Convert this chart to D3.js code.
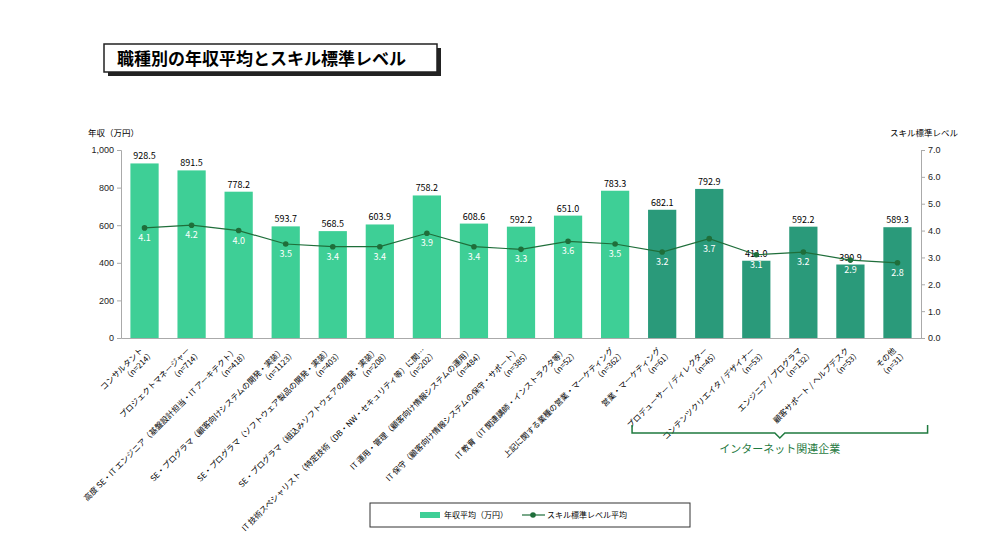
<!DOCTYPE html><html><head><meta charset="utf-8"><script src="https://cdn.jsdelivr.net/npm/d3@7"></script>
<style>body{margin:0;background:#fff;font-family:"Noto Sans CJK JP","Noto Sans",sans-serif}</style></head><body><svg id="c" width="1000" height="539"></svg><script>
const names=["コンサルタント","プロジェクトマネージャー","高度 SE・IT エンジニア（基盤設計担当・IT アーキテクト）","SE・プログラマ（顧客向けシステムの開発・実装）","SE・プログラマ（ソフトウェア製品の開発・実装）","SE・プログラマ（組込みソフトウェアの開発・実装）","IT 技術スペシャリスト（特定技術（DB・NW・セキュリティ等）に関…","IT 運用・管理（顧客向け情報システムの運用）","IT 保守（顧客向け情報システムの保守・サポート）","IT 教育（IT 関連講師・インストラクタ等）","上記に関する業種の営業・マーケティング","営業・マーケティング","プロデューサー / ディレクター","コンテンツクリエイタ / デザイナー","エンジニア / プログラマ","顧客サポート / ヘルプデスク","その他"];
const counts=[214,714,418,1123,403,208,202,484,385,52,362,61,45,53,132,53,31];
const salary=[928.5,891.5,778.2,593.7,568.5,603.9,758.2,608.6,592.2,651.0,783.3,682.1,792.9,411.0,592.2,390.9,589.3];
const skill=[4.1,4.2,4.0,3.5,3.4,3.4,3.9,3.4,3.3,3.6,3.5,3.2,3.7,3.1,3.2,2.9,2.8];
const internet=[0,0,0,0,0,0,0,0,0,0,0,1,1,1,1,1,1];
const leftTicks=[0,200,400,600,800,1000], rightTicks=[0,1,2,3,4,5,6,7];
const svg=d3.select("#c");
const L=121,R=921,T=150,B=338;
const x=d3.scaleBand().domain(d3.range(names.length)).range([L,R]).paddingInner(0.4).paddingOuter(0.2);
const y=d3.scaleLinear().domain([0,1000]).range([B,T]);
const y2=d3.scaleLinear().domain([0,7]).range([B,T]);
// title
svg.append("rect").attr("x",108).attr("y",48).attr("width",333).attr("height",28).attr("fill","#222");
svg.append("rect").attr("x",104).attr("y",44).attr("width",333).attr("height",28).attr("fill","#fff").attr("stroke","#222").attr("stroke-width",1.5);
svg.append("text").attr("x",117).attr("y",65).attr("font-size",17).attr("font-weight","bold").text("職種別の年収平均とスキル標準レベル");
const ga=svg.append("g").attr("transform",`translate(${L},0)`).call(d3.axisLeft(y).tickValues(leftTicks).tickFormat(d3.format(",")).tickSize(4));
const gb=svg.append("g").attr("transform",`translate(${R},0)`).call(d3.axisRight(y2).tickValues(rightTicks).tickSize(4));
svg.append("g").attr("transform",`translate(0,${B})`).call(d3.axisBottom(x).tickSize(0).tickFormat(""));
svg.selectAll(".domain,.tick line").attr("stroke","#aaa");
svg.selectAll(".tick text").attr("font-size",9).attr("fill","#222");
svg.append("text").attr("x",88).attr("y",136).attr("font-size",8.5).text("年収（万円）");
svg.append("text").attr("x",958).attr("y",136).attr("font-size",8.5).attr("text-anchor","end").text("スキル標準レベル");
const c1="#3ecf96",c2="#2a9a7a";
svg.selectAll(".bar").data(salary).join("rect").attr("x",(d,i)=>x(i)).attr("width",x.bandwidth()).attr("y",d=>y(d)).attr("height",d=>B-y(d)).attr("fill",(d,i)=>internet[i]?c2:c1);
svg.selectAll(".bl").data(salary).join("text").attr("x",(d,i)=>x(i)+x.bandwidth()/2).attr("y",d=>y(d)-4).attr("text-anchor","middle").attr("font-size",9).text(d=>d.toFixed(1));
const line=d3.line().x((d,i)=>x(i)+x.bandwidth()/2).y(d=>y2(d));
svg.append("path").datum(skill).attr("d",line).attr("fill","none").attr("stroke","#1f6e3a").attr("stroke-width",1.2);
svg.selectAll(".pt").data(skill).join("circle").attr("cx",(d,i)=>x(i)+x.bandwidth()/2).attr("cy",d=>y2(d)).attr("r",2.8).attr("fill","#1f6e3a");
svg.selectAll(".sl").data(skill).join("text").attr("x",(d,i)=>x(i)+x.bandwidth()/2).attr("y",d=>y2(d)+13).attr("text-anchor","middle").attr("font-size",9).attr("fill","#fff").text(d=>d.toFixed(1));
// category labels
names.forEach((n,i)=>{const cx=x(i)+x.bandwidth()/2+6;
 const g=svg.append("g").attr("transform",`translate(${cx},${B+6}) rotate(-45)`);
 g.append("text").attr("text-anchor","end").attr("font-size",8).attr("y",0).attr("x",-10).text(n);
 g.append("text").attr("text-anchor","end").attr("font-size",8).attr("y",10).attr("x",-4).text(`（n=${counts[i]}）`);});
// bracket
const bx1=x(11)-16,bx2=x(16)+x.bandwidth()+16,bm=(bx1+bx2)/2;
svg.append("path").attr("d",`M${bx1},425 V433 H${bm-5} L${bm},438 L${bm+5},433 H${bx2} V425`).attr("fill","none").attr("stroke","#1f7a3f").attr("stroke-width",1.5);
svg.append("text").attr("x",bm).attr("y",453).attr("text-anchor","middle").attr("font-size",11).attr("fill","#1f7a3f").text("インターネット関連企業");
// legend
svg.append("rect").attr("x",370).attr("y",503).attr("width",320).attr("height",24).attr("fill","#fff").attr("stroke","#333");
svg.append("rect").attr("x",420).attr("y",512).attr("width",20).attr("height",6).attr("fill",c1);
svg.append("text").attr("x",444).attr("y",518).attr("font-size",8).text("年収平均（万円）");
svg.append("line").attr("x1",522).attr("x2",545).attr("y1",515).attr("y2",515).attr("stroke","#1f6e3a").attr("stroke-width",1.2);
svg.append("circle").attr("cx",533).attr("cy",515).attr("r",2.8).attr("fill","#1f6e3a");
svg.append("text").attr("x",547).attr("y",518).attr("font-size",8).text("スキル標準レベル平均");
</script></body></html>
